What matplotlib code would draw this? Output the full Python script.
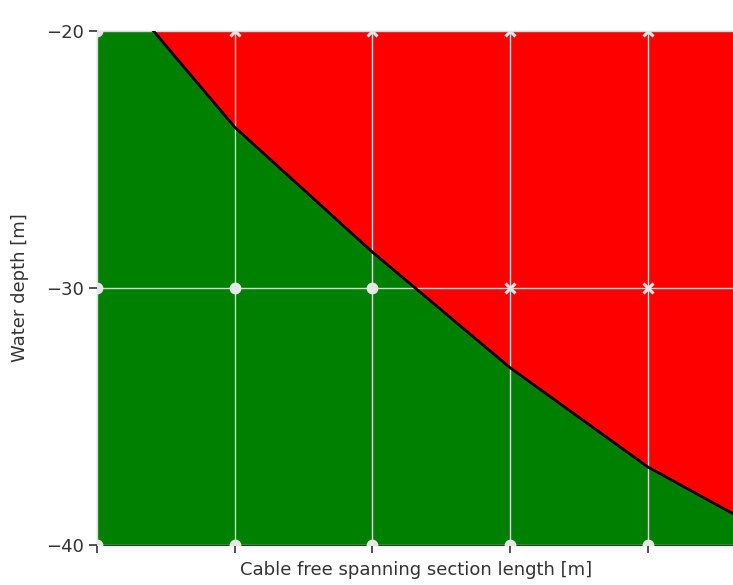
import matplotlib
matplotlib.use("Agg")
import matplotlib.pyplot as plt
import numpy as np

# data
span_x = [0, 1, 2, 3, 4, 5]
limit_depth = [-17.4, -23.74, -28.6, -33.1, -36.96, -39.9]
grid_x = [0, 1, 2, 3, 4]
# feasible (circle) points and infeasible (x) points
ok_x = [0, 0, 1, 2, 0, 1, 2, 3, 4]
ok_y = [-20, -30, -30, -30, -40, -40, -40, -40, -40]
bad_x = [1, 2, 3, 4, 3, 4]
bad_y = [-20, -20, -20, -20, -30, -30]
ytick_vals = [-20, -30, -40]

fig = plt.figure(figsize=(7.33, 5.85), dpi=100)
ax = fig.add_axes([97/733, 40/585, 1 - 97/733 + 0.002, 514/585])

x = np.array(span_x, dtype=float)
y = np.array(limit_depth, dtype=float)
ax.fill_between(x, -45, y, color="#008000", zorder=1)
ax.fill_between(x, y, -15, color="#ff0000", zorder=1)
ax.plot(x, y, color="black", lw=2, zorder=3)

ax.set_xlim(0, 4.63)
ax.set_ylim(-40, -20)
ax.set_xticks(grid_x)
ax.set_xticklabels([])
ax.set_yticks(ytick_vals)
ax.grid(True, color="#d8d8d8", lw=1, zorder=2)
ax.set_axisbelow(False)

ax.plot(ok_x, ok_y, "o", color="#e6e6e6", ms=7.5, zorder=4, clip_on=True)
ax.plot(bad_x, bad_y, "x", color="#e6e6e6", ms=7.5, mew=2.2, zorder=4, clip_on=True)

ax.tick_params(labelsize=13, length=6, width=1.2, colors="#333333")
ax.set_xlabel("Cable free spanning section length [m]", fontsize=13,
              labelpad=2, color="#333333")
ax.set_ylabel("Water depth [m]", fontsize=13, labelpad=12, color="#333333")
ax.spines["right"].set_visible(False)
for s in ["top", "left", "bottom"]:
    ax.spines[s].set_color("#333333")

fig.savefig("out.png", dpi=100)
